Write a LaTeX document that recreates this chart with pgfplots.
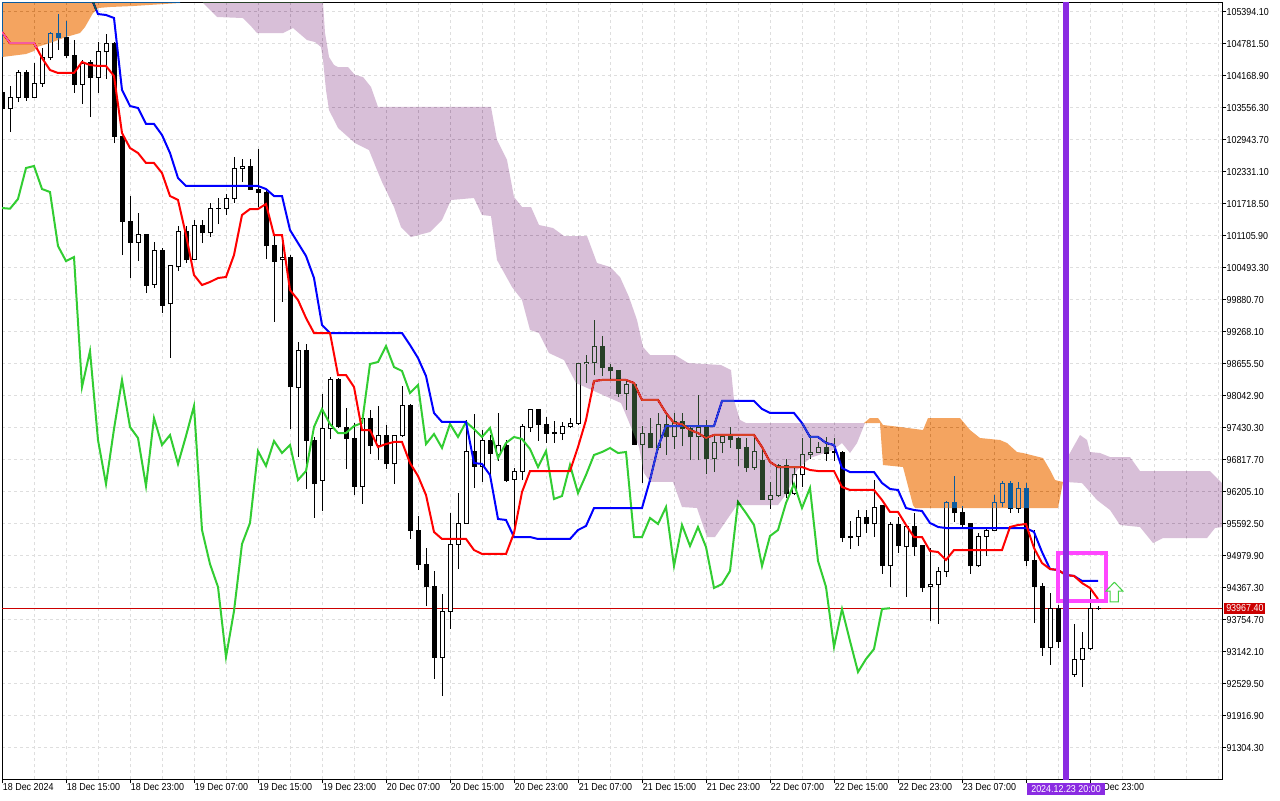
\documentclass[border=0pt]{standalone}
\usepackage{fontspec}
\setmainfont{Liberation Sans}[FakeStretch=0.88]
\usepackage{pgfplots}
\usepackage{pgfplotstable}
\pgfplotsset{compat=1.18}

\definecolor{mtgrid}{RGB}{222,222,222}
\definecolor{tenkan}{RGB}{255,0,0}
\definecolor{kijun}{RGB}{0,0,255}
\definecolor{chikou}{RGB}{50,205,50}
\definecolor{xorange}{RGB}{11,91,159}
\definecolor{xpurple}{RGB}{39,64,39}
\definecolor{bidred}{RGB}{204,0,0}
\definecolor{vline}{RGB}{138,43,226}
\definecolor{magbox}{RGB}{255,70,255}
\definecolor{arrowgreen}{RGB}{70,210,70}

\pgfplotstableread{
h o hi lo c
7 103830 103849 103523 103542
8 103542 103964 103083 103753
9 103753 104270 103657 104213
10 104213 104270 103677 103753
11 103753 104404 103740 104021
12 104021 104691 103945 104500
13 104500 104997 104461 104978
14 104978 105342 104653 104883
15 104883 105208 104500 104557
16 104557 104844 103830 104002
17 104002 104461 103619 104404
18 104423 104461 103370 104136
19 104136 104806 103830 104615
20 104615 104959 104098 104787
21 104787 104800 102872 103006
22 103006 103006 100728 101379
23 101379 101858 100288 100977
24 100977 101532 100613 101130
25 101130 101130 100001 100154
26 100173 100977 100097 100824
27 100824 100862 99618 99771
28 99791 100537 98757 100537
29 100518 101284 100422 101169
30 101169 101284 100575 100633
31 100652 101399 100633 101284
32 101284 101399 100958 101150
33 101150 101724 101073 101628
34 101628 101820 101322 101615
35 101615 101896 101494 101801
36 101801 102605 101724 102394
37 102394 102566 102126 102432
38 102432 102566 101992 101992
39 101992 102757 101647 101934
40 101934 101992 100652 100901
41 100920 101111 99446 100613
42 100633 100977 99829 100690
43 100690 100728 97398 98202
44 98183 99063 96862 98891
45 98891 99025 96249 97187
46 97187 97245 95694 96345
47 96421 98068 95828 97398
48 97398 98393 97206 98336
49 98336 98374 97417 97436
50 97417 97800 96632 97225
51 97225 97512 96134 96306
52 96306 97620 95962 97608
53 97608 97761 96919 97091
54 97091 97838 96804 97282
55 97282 97474 96632 96728
56 96728 97264 96345 97264
57 97264 98221 97250 97838
58 97838 97876 95292 95464
59 95464 95732 94698 94813
60 94813 95120 94009 94373
61 94373 94679 92611 93032
62 93032 94239 92286 93913
63 93913 95790 93569 95196
64 95196 96172 94717 95598
65 95598 97570 95590 96976
66 96976 97685 96268 96689
67 96689 97379 96383 97168
68 97168 97282 96383 96938
69 96900 97704 96785 97091
70 97091 97187 96383 96421
71 96440 96651 95464 96593
72 96593 97493 96421 97436
73 97417 97790 97340 97780
74 97780 97790 97168 97493
75 97493 97627 97130 97321
76 97340 97551 97130 97321
77 97321 97532 97187 97455
78 97455 97608 97417 97512
79 97512 98661 97474 98642
80 98642 98814 98278 98680
81 98680 99484 98431 98986
82 98986 99178 98412 98584
83 98584 98642 98354 98508
84 98508 98527 98010 98086
85 98086 98336 97761 98240
86 98240 98250 97091 97110
87 97110 97455 96363 97302
88 97302 97608 97034 97034
89 97034 97704 96996 97493
90 97493 97704 96900 97245
91 97245 97704 97015 97532
92 97532 97704 97072 97398
93 97398 97436 96804 97245
94 97245 98049 96804 97417
95 97417 97570 96536 96842
96 96842 97264 96574 97130
97 97130 97302 96938 97245
98 97264 97436 97034 97206
99 97225 97245 96689 97015
100 97034 97225 96574 96670
101 96670 97225 96613 96976
102 96804 96996 96040 96057
103 96057 96383 95866 96115
104 96115 96728 96096 96708
105 96708 96823 96077 96172
106 96172 96651 96134 96517
107 96517 97225 96287 96900
108 96900 97282 96823 96957
109 96957 97148 96938 97034
110 97034 97245 96785 96938
111 96976 97225 96785 96957
112 96957 96970 95234 95330
113 95349 95636 95100 95330
114 95349 95847 95158 95694
115 95694 95847 95407 95579
116 95579 96421 95330 95904
117 95924 95930 94622 94775
118 94775 95617 94373 95560
119 95560 95713 95024 95158
120 95139 95530 94182 95522
121 95522 95790 94966 95139
122 95158 95170 94277 94354
123 94373 95120 93722 94430
124 94430 94756 93665 94679
125 94679 96019 94564 96000
126 96000 96498 95617 95790
127 95790 95924 95522 95560
128 95579 95590 94622 94775
129 94775 95407 94760 95349
130 95349 95522 94966 95464
131 95464 96134 95445 95981
132 95981 96402 95904 96345
133 96345 96402 95790 95885
134 95885 96383 95790 96268
135 96268 96363 94775 94871
136 94871 95464 93684 94373
137 94373 94450 93052 93224
138 93224 94258 92880 93952
139 93952 94028 93205 93339
140 93339 93645 92592 92746
141 92707 93665 92650 92994
142 92994 93511 92458 93186
143 93186 94315 93167 93952
144 93952 94010 93940 93967.4
}\candles

\pgfplotstableread{
h p
7 104998
8 104787
9 104787
10 104787
11 104787
12 104500
13 104270
14 104213
15 104213
16 104213
17 104423
18 104366
19 104347
20 104347
21 104155
22 103064
23 102777
24 102681
25 102490
26 102490
27 102298
28 101858
29 101782
30 101111
31 100346
32 100154
33 100212
34 100288
35 100307
36 100728
37 101494
38 101609
39 101609
40 101705
41 101111
42 101111
43 100059
44 99867
45 99523
46 99235
47 99235
48 99235
49 98431
50 98431
51 98202
52 97378
53 97378
54 97053
55 97111
56 97149
57 97149
58 96747
59 96498
60 96134
61 95426
62 95292
63 95292
64 95292
65 95292
66 95081
67 95005
68 95005
69 95005
70 95005
71 95407
72 96191
73 96593
74 96593
75 96593
76 96593
77 96593
78 96593
79 97053
80 97570
81 98317
82 98336
83 98336
84 98336
85 98336
86 98278
87 97953
88 97953
89 97953
90 97704
91 97512
92 97493
93 97378
94 97321
95 97225
96 97283
97 97283
98 97283
99 97283
100 97283
101 97283
102 97053
103 96766
104 96670
105 96670
106 96670
107 96670
108 96613
109 96593
110 96593
111 96593
112 96287
113 96230
114 96230
115 96230
116 96230
117 96038
118 95809
119 95809
120 95560
121 95330
122 95330
123 95062
124 95043
125 94890
126 95081
127 95081
128 95081
129 95081
130 95081
131 95081
132 95081
133 95522
134 95560
135 95579
136 95119
137 94832
138 94717
139 94698
140 94603
141 94584
142 94449
143 94354
144 94143
}\tenkan

\pgfplotstableread{
h p
7 105706
18 105706
19 105342
20 105323
21 105266
22 103888
23 103581
24 103543
25 103237
26 103237
27 103026
28 102681
29 102203
30 102050
39 102050
40 101992
41 101858
42 101858
43 101207
44 100958
45 100710
46 100288
47 99389
48 99235
57 99235
58 99006
59 98757
60 98412
61 97704
62 97532
65 97532
66 96747
67 96728
68 96517
69 95675
70 95656
71 95330
73 95330
74 95292
78 95292
79 95464
80 95541
81 95885
87 95885
88 96421
89 97053
90 97455
96 97455
97 97934
101 97934
102 97781
103 97704
106 97704
107 97512
108 97245
109 97245
110 97130
111 97091
112 96651
113 96574
116 96574
117 96364
118 96249
119 96230
120 95885
121 95847
122 95828
123 95598
124 95522
125 95502
135 95502
136 95426
137 95043
138 94717
139 94698
140 94603
141 94584
142 94488
144 94488
}\kijun

\pgfplotstableread{
h p
7 101628
8 101615
9 101801
10 102394
11 102432
12 101992
13 101934
14 100901
15 100613
16 100690
17 98202
18 98891
19 97187
20 96345
21 97398
22 98336
23 97436
24 97225
25 96306
26 97608
27 97091
28 97282
29 96728
30 97264
31 97838
32 95464
33 94813
34 94373
35 93032
36 93913
37 95196
38 95598
39 96976
40 96689
41 97168
42 96938
43 97091
44 96421
45 96593
46 97436
47 97780
48 97493
49 97321
50 97321
51 97455
52 97512
53 98642
54 98680
55 98986
56 98584
57 98508
58 98086
59 98240
60 97110
61 97302
62 97034
63 97493
64 97245
65 97532
66 97398
67 97245
68 97417
69 96842
70 97130
71 97245
72 97206
73 97015
74 96670
75 96976
76 96057
77 96115
78 96708
79 96172
80 96517
81 96900
82 96957
83 97034
84 96938
85 96957
86 95330
87 95330
88 95694
89 95579
90 95904
91 94775
92 95560
93 95158
94 95522
95 95139
96 94354
97 94430
98 94679
99 96000
100 95790
101 95560
102 94775
103 95349
104 95464
105 95981
106 96345
107 95885
108 96268
109 94871
110 94373
111 93224
112 93952
113 93339
114 92746
115 92994
116 93186
117 93952
118 93967
}\chikou

% cloud outlines (Senkou span A / B)
\pgfplotstableread{
h p
6 106200
29.25 106200
29.25 105553
23.375 105495
20.5 105476
19 105457
18.375 105361
17.375 105093
16.75 104978
15 104902
13 104787
11.375 104710
11 104634
10 104576
8 104538
7 104519
6 104519
}\cloudA

\pgfplotstableread{
h p
32.125 106200
47.125 106200
47.125 105553
47.375 104978
47.875 104519
48.5 104366
49 104327
50.25 104327
51.125 104174
52.125 104136
53.125 103945
54 103562
68.125 103562
68.875 102930
70.125 102547
71 101839
72 101647
73.125 101647
74.125 101303
75.875 101245
77.25 101092
80.125 101092
81.375 100575
83 100499
84.25 100307
85.375 99924
86.375 99484
87.125 98967
88 98814
91.125 98814
92.75 98661
96.875 98622
98.125 98527
98.5 97952
99.25 97570
100 97512
114.75 97512
114.875 97512
113.875 97129
113 96938
112 97129
110.875 96995
108 96842
106.375 96612
105.125 96172
104 95942
98.875 95942
96.125 95330
95.125 95330
93.875 95885
92 95904
90.875 96383
88 96383
87.25 96555
86.625 97053
85.625 97436
84.375 97895
79.875 98201
78.75 98278
77.25 98718
75.375 98852
74.125 99235
73 99293
72 99867
70.75 100116
68.875 100633
68.125 101475
67 101494
66 101820
63.125 101781
62 101398
60.5 101169
58.125 101073
56.875 101264
56 101647
54.5 102126
53.875 102356
52.875 102738
51.125 102872
49 103160
47.875 103504
47.5 103887
47.125 104461
46.875 104710
46.125 104806
45.125 104844
44.25 104959
43.375 105074
42.125 104978
38.875 104978
38 105131
37.125 105265
33.875 105285
33 105419
32.125 105553
}\cloudB

\pgfplotstableread{
h p
114.75 97512
115.5 97608
116.5 97608
117.125 97474
119.25 97436
122.125 97378
122.75 97608
126.75 97608
128 97378
129.25 97225
131.75 97187
132.625 97129
133.875 96957
134.625 96938
137.125 96842
138 96612
138.625 96421
139.625 96383
139 95885
121.125 95885
120.875 95942
119.625 96670
117.125 96708
116.75 97512
115 97512
}\cloudC

\pgfplotstableread{
h p
140 96804
141.75 97282
142.625 97187
143 96957
144.25 96938
145.5 96861
148 96861
149.25 96593
158 96593
159.5 96363
161 96230
161 95521
159.5 95521
158.625 95502
157.625 95310
152.125 95310
150.875 95215
149.25 95521
146.75 95560
145.5 95847
143.875 96038
142 96363
140 96383
}\cloudD

\begin{document}
\begin{tikzpicture}
\useasboundingbox (0,0) rectangle (960pt,600pt);
\fill[white] (0,0) rectangle (960pt,600pt);
\begin{axis}[
  at={(1.5pt,15.75pt)}, anchor=south west,
  scale only axis, width=915pt, height=582.375pt,
  xmin=7, xmax=159.5, ymin=90697.2, ymax=105562.5,
  axis line style={black, line width=0.75pt},
  tick align=outside,
  major tick length=3.25pt,
  minor tick length=0pt,
  major tick style={black, line width=0.75pt},
  xtick pos=left, ytick pos=right, yticklabel pos=right,
  xtick={7,15,23,31,39,47,55,63,71,79,87,95,103,111,119,127,135,143},
  xticklabels={18 Dec 2024, 18 Dec 15:00, 18 Dec 23:00, 19 Dec 07:00, 19 Dec 15:00, 19 Dec 23:00, 20 Dec 07:00, 20 Dec 15:00, 20 Dec 23:00, 21 Dec 07:00, 21 Dec 15:00, 21 Dec 23:00, 22 Dec 07:00, 22 Dec 15:00, 22 Dec 23:00, 23 Dec 07:00, {}, 23 Dec 23:00},
  minor xtick={11,15,...,159},
  ytick={91304.3,91916.9,92529.5,93142.1,93754.7,94367.3,94979.9,95592.5,96205.1,96817.7,97430.3,98042.9,98655.5,99268.1,99880.7,100493.3,101105.9,101718.5,102331.1,102943.7,103556.3,104168.9,104781.5,105394.1},
  yticklabels={91304.30,91916.90,92529.50,93142.10,93754.70,94367.30,94979.90,95592.50,96205.10,96817.70,97430.30,98042.90,98655.50,99268.10,99880.70,100493.30,101105.90,101718.50,102331.10,102943.70,103556.30,104168.90,104781.50,105394.10},
  tick label style={font=\fontsize{7.6}{9}\selectfont},
  xticklabel style={anchor=north west, inner sep=0pt, xshift=0.5pt},
  yticklabel style={anchor=west, inner sep=0pt, yshift=-0.6pt},
  xmajorgrids=false, xminorgrids=true, ymajorgrids=true,
  major grid style={mtgrid, line width=0.75pt, dash pattern=on 2.25pt off 2.25pt},
  minor grid style={mtgrid, line width=0.75pt, dash pattern=on 2.25pt off 2.25pt},
]
% bid line
\addplot[bidred, line width=0.75pt, mark=none] coordinates {(6,93967.4) (161,93967.4)};
% candles: wicks, bodies, bull interiors
\addplot[black, line width=0.75pt, mark=none, quiver={u=0, v=\thisrow{hi}-\thisrow{lo}}] table[x=h, y=lo] {\candles};
\addplot[black, line width=3.75pt, mark=none, quiver={u=0, v={abs(\thisrow{c}-\thisrow{o})+19.144}}] table[x=h, y expr={min(\thisrow{o},\thisrow{c})-9.572}] {\candles};
\addplot[white, line width=2.25pt, mark=none, quiver={u=0, v={\thisrow{c}-\thisrow{o}-19.144}}, restrict expr to domain={\thisrow{c}-\thisrow{o}}{19.5:100000}, unbounded coords=discard] table[x=h, y expr={\thisrow{o}+9.572}] {\candles};
% ichimoku lines
\addplot[chikou, line width=1.5pt, mark=none] table[x=h, y=p] {\chikou};
\addplot[kijun, line width=1.5pt, mark=none] table[x=h, y=p] {\kijun};
\addplot[tenkan, line width=1.5pt, mark=none] table[x=h, y=p] {\tenkan};
% cloud, drawn as MT5 does (inverted colour, difference blend)
\addplot[draw=none, fill=xorange, blend mode=difference] table[x=h, y=p] {\cloudA};
\addplot[draw=none, fill=xpurple, blend mode=difference] table[x=h, y=p] {\cloudB};
\addplot[draw=none, fill=xorange, blend mode=difference] table[x=h, y=p] {\cloudC};
\addplot[draw=none, fill=xpurple, blend mode=difference] table[x=h, y=p] {\cloudD};
% annotations
\addplot[magbox, line width=3pt, line join=miter, mark=none] coordinates {(139,95030) (145.04,95030) (145.04,94099) (139,94099) (139,95030) (141,95030)};
\addplot[vline, line width=4.5pt, mark=none] coordinates {(140,90000) (140,106000)};
\addplot[draw=arrowgreen, fill=white, line width=0.75pt, line join=miter, mark=none] coordinates {(146.04,94465) (147.1,94296) (146.54,94296) (146.54,94086) (145.5,94086) (145.5,94296) (145.0,94296) (146.04,94465)};
\coordinate (vlab) at (axis cs:140,90697.2);
\coordinate (plab) at (axis cs:159.5,93967.4);
\end{axis}
\node[fill=vline, text=white, font=\fontsize{7.6}{9}\selectfont, inner xsep=3pt, inner ysep=0pt, minimum height=9pt, anchor=center, yshift=-7.5pt] at (vlab) {2024.12.23 20:00};
\node[fill=bidred, text=white, font=\fontsize{7.6}{9}\selectfont, inner xsep=1.5pt, inner ysep=0pt, minimum height=8.5pt, anchor=west, xshift=1.5pt] at (plab) {93967.40};
\end{tikzpicture}
\end{document}
